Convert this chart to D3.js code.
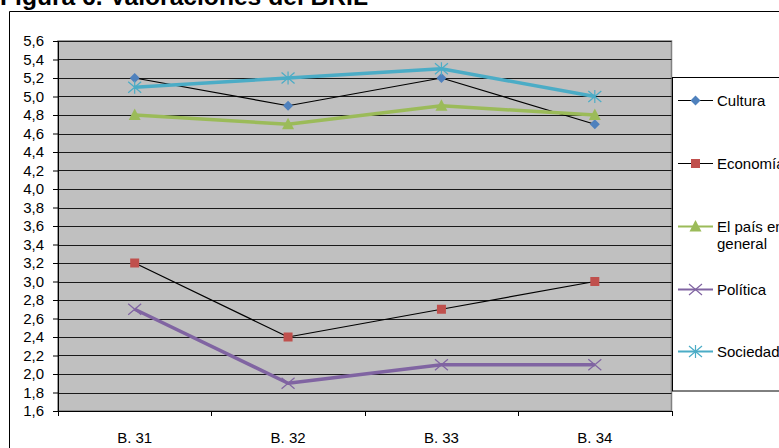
<!DOCTYPE html>
<html>
<head>
<meta charset="utf-8">
<script src="https://cdn.jsdelivr.net/npm/d3@7"></script>
<style>
html,body{margin:0;padding:0;background:#fff;overflow:hidden;}
svg{display:block;font-family:Arial,"Liberation Sans",sans-serif;}
</style>
</head>
<body>
<svg id="chart" width="779" height="448"></svg>
<script>
const title = "Figura 6. Valoraciones del BRIL";
const categories = ["B. 31", "B. 32", "B. 33", "B. 34"];
const yTicks = [1.6,1.8,2.0,2.2,2.4,2.6,2.8,3.0,3.2,3.4,3.6,3.8,4.0,4.2,4.4,4.6,4.8,5.0,5.2,5.4,5.6];
const seriesNames = ["Cultura", "Economía", "El país en general", "Política", "Sociedad"];
const cultura = [5.2, 4.9, 5.2, 4.7];
const economia = [3.2, 2.4, 2.7, 3.0];
const paisGeneral = [4.8, 4.7, 4.9, 4.8];
const politica = [2.7, 1.9, 2.1, 2.1];
const sociedad = [5.1, 5.2, 5.3, 5.0];

const styles = [
  {line:"#000000", lw:1.2, marker:"diamond", mc:"#4F81BD"},
  {line:"#000000", lw:1.2, marker:"square", mc:"#C0504D"},
  {line:"#9BBB59", lw:3.5, marker:"triangle", mc:"#9BBB59"},
  {line:"#8064A2", lw:3.5, marker:"x", mc:"#8064A2"},
  {line:"#4BACC6", lw:3.5, marker:"asterisk", mc:"#4BACC6"}
];
const allValues = [cultura, economia, paisGeneral, politica, sociedad];
const series = seriesNames.map((n,i)=>({name:n, values:allValues[i], style:styles[i]}));

const svg = d3.select("#chart");
const plot = {left:58, right:671.5, top:41, bottom:411};

// outer frame
svg.append("path").attr("d","M9.5,448 V11.5 H779").attr("fill","none").attr("stroke","#000").attr("stroke-width",1);

// title
svg.append("text").attr("x",0).attr("y",5).attr("font-size",24).attr("font-weight","bold")
  .attr("textLength",368).attr("lengthAdjust","spacingAndGlyphs").attr("fill","#000").text(title);

const x = d3.scaleBand().domain(categories).range([plot.left, plot.right]);
const y = d3.scaleLinear().domain([1.6, 5.6]).range([plot.bottom, plot.top]);

// plot background
svg.append("rect").attr("x",plot.left).attr("y",plot.top).attr("width",plot.right-plot.left).attr("height",plot.bottom-plot.top)
  .attr("fill","#C0C0C0").attr("stroke","#808080").attr("stroke-width",1.5);

// grid lines
svg.append("g").selectAll("line").data(yTicks.slice(1)).join("line")
  .attr("x1",plot.left).attr("x2",plot.right)
  .attr("y1",d=>Math.round(y(d))+0.5).attr("y2",d=>Math.round(y(d))+0.5)
  .attr("stroke","#1a1a1a").attr("stroke-width",1);

// y axis
const yAxis = d3.axisLeft(y).tickValues(yTicks).tickSize(5).tickPadding(9)
  .tickFormat(d=>d3.format(".1f")(d).replace(".",","));
const gy = svg.append("g").attr("transform",`translate(${plot.left},0)`).call(yAxis);
gy.select(".domain").attr("stroke","#000");
gy.selectAll(".tick line").attr("stroke","#000");
gy.selectAll(".tick text").attr("font-size",15).attr("font-family","Arial, 'Liberation Sans', sans-serif").attr("fill","#000");

// x axis
const xAxis = d3.axisBottom(x).tickSize(0).tickPadding(21);
const gx = svg.append("g").attr("transform",`translate(0,${plot.bottom})`).call(xAxis);
gx.select(".domain").attr("stroke","#000");
gx.selectAll(".tick text").attr("font-size",15).attr("font-family","Arial, 'Liberation Sans', sans-serif").attr("fill","#000");
// category boundary ticks
const bounds = categories.map(c=>x(c)).concat([x(categories[categories.length-1])+x.bandwidth()]);
svg.append("g").selectAll("line").data(bounds).join("line")
  .attr("x1",d=>Math.round(d)+0.5).attr("x2",d=>Math.round(d)+0.5)
  .attr("y1",plot.bottom).attr("y2",plot.bottom+5).attr("stroke","#000");

function drawMarker(g, type, cx, cy, color){
  if(type==="diamond"){
    g.append("path").attr("d",`M${cx},${cy-5} L${cx+5},${cy} L${cx},${cy+5} L${cx-5},${cy} Z`).attr("fill",color);
  } else if(type==="square"){
    g.append("rect").attr("x",cx-4.5).attr("y",cy-4.5).attr("width",9).attr("height",9).attr("fill",color);
  } else if(type==="triangle"){
    g.append("path").attr("d",`M${cx},${cy-6.5} L${cx+6},${cy+5} L${cx-6},${cy+5} Z`).attr("fill",color);
  } else if(type==="x"){
    g.append("path").attr("d",`M${cx-6.5},${cy-5.5} L${cx+6.5},${cy+5.5} M${cx-6.5},${cy+5.5} L${cx+6.5},${cy-5.5}`).attr("stroke",color).attr("stroke-width",1.2);
  } else if(type==="asterisk"){
    g.append("path").attr("d",`M${cx-6.5},${cy-5.5} L${cx+6.5},${cy+5.5} M${cx-6.5},${cy+5.5} L${cx+6.5},${cy-5.5} M${cx},${cy-6.5} L${cx},${cy+6.5}`).attr("stroke",color).attr("stroke-width",1.2);
  }
}

const line = d3.line().x((d,i)=>x(categories[i])+x.bandwidth()/2).y(d=>y(d));
series.forEach(s=>{
  const g = svg.append("g");
  g.append("path").attr("d",line(s.values)).attr("fill","none").attr("stroke",s.style.line).attr("stroke-width",s.style.lw).attr("stroke-linejoin","round");
  s.values.forEach((v,i)=>drawMarker(g, s.style.marker, x(categories[i])+x.bandwidth()/2, y(v), s.style.mc));
});

// legend
svg.append("rect").attr("x",672.5).attr("y",77.5).attr("width",120).attr("height",313.5).attr("fill","#fff").attr("stroke","#000").attr("stroke-width",1);
const legendY = [100.5, 163.5, 226.5, 289.5, 351.5];
series.forEach((s,i)=>{
  const g = svg.append("g");
  const ly = legendY[i];
  g.append("line").attr("x1",678).attr("x2",713).attr("y1",ly).attr("y2",ly).attr("stroke",s.style.line).attr("stroke-width",s.style.lw>2?2:1.2);
  drawMarker(g, s.style.marker, 695.5, ly, s.style.mc);
  const t = g.append("text").attr("x",717).attr("y",ly+5).attr("font-size",15).attr("fill","#000");
  if(s.name==="El país en general"){
    t.append("tspan").attr("x",717).text("El país en");
    t.append("tspan").attr("x",717).attr("dy",17).text("general");
  } else {
    t.text(s.name);
  }
});
</script>
</body>
</html>
